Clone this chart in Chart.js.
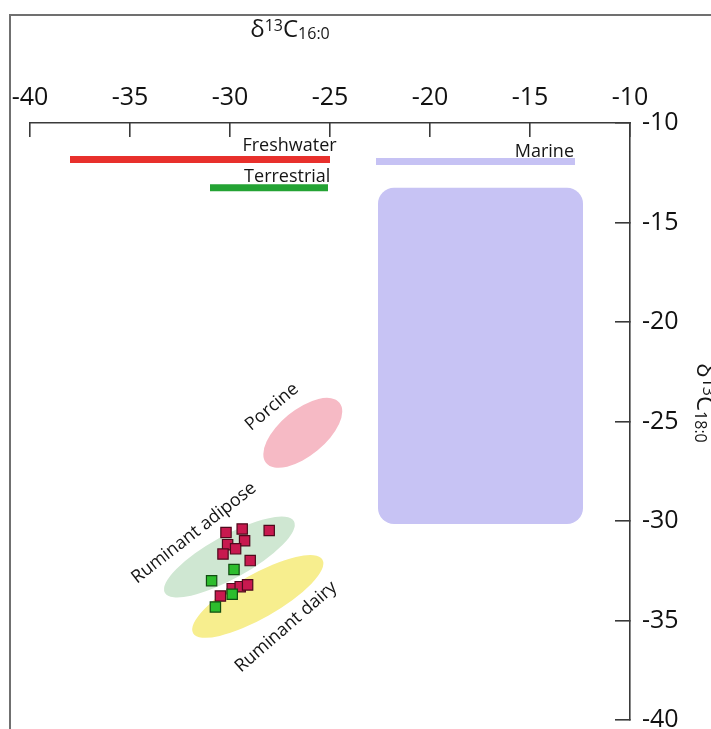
<!DOCTYPE html>
<html>
<head>
<meta charset="utf-8">
<script src="https://cdn.jsdelivr.net/npm/chart.js@4.4.1/dist/chart.umd.min.js"></script>
<style>
  html, body { margin: 0; padding: 0; background: #fff; }
  #wrap { position: relative; width: 711px; height: 729px; overflow: hidden; }
  #wrap canvas { position: absolute; left: 0; top: 0; }
  #frame { position: absolute; left: 9px; top: 14px; width: 800px; height: 800px;
           border-top: 2px solid #707070; border-left: 2px solid #707070; pointer-events: none; }
</style>
</head>
<body>
<div id="wrap">
  <canvas id="chart" width="711" height="729" style="width:711px;height:729px"></canvas>
  <div id="frame"></div>
</div>
<script>
// Axis ticks (‰)
const xTicks = [-40, -35, -30, -25, -20, -15, -10];
const yTicks = [-10, -15, -20, -25, -30, -35, -40];

// Sample residues, δ13C16:0 vs δ13C18:0 (‰)
const redX = [-30.20, -29.39, -28.04, -30.12, -29.27, -29.72, -30.35, -28.99, -29.89, -29.49, -29.12, -30.48];
const redY = [-30.58, -30.40, -30.48, -31.19, -30.99, -31.40, -31.66, -31.99, -33.40, -33.30, -33.21, -33.77];
const greenX = [-29.80, -30.92, -29.89, -30.73];
const greenY = [-32.44, -33.00, -33.68, -34.32];

// δ13C16:0 ranges of reference fats
const rangeNames = ['Freshwater', 'Terrestrial', 'Marine'];
const rangeLow   = [-38.0, -31.0, -22.7];
const rangeHigh  = [-25.0, -25.1, -12.75];
const rangeLevel = [-11.84, -13.26, -11.94];

// Marine reference field
const marineBoxX = [-22.6, -12.35];
const marineBoxY = [-30.15, -13.26];

// Reference fat ellipses: centre, semi-axes (‰) and tilt (degrees)
const ellipseNames = ['Ruminant adipose', 'Ruminant dairy', 'Porcine'];
const ellipseCX = [-30.03, -28.61, -26.36];
const ellipseCY = [-31.81, -33.79, -25.57];
const ellipseA  = [3.70, 3.73, 2.38];
const ellipseB  = [1.08, 1.10, 1.15];
const ellipseTilt = [29, 29.6, 39.4];

const FONT = '"Open Sans", "Noto Sans", sans-serif';
const ellipseColors = ['#cfe7d2', '#f7ee8e', '#f6bac5'];
const rangeColors = ['#e8302c', '#24a334', '#c6c2f4'];

const toPoints = (xs, ys) => xs.map((v, i) => ({ x: v, y: ys[i] }));

// Reference fields, labels and axis titles drawn from the chart's scales
const referencePlugin = {
  id: 'referenceFields',
  beforeDatasetsDraw(chart, args, opts) {
    const { ctx, scales: { x, y } } = chart;
    const unit = (Math.abs(x.getPixelForValue(1) - x.getPixelForValue(0)) +
                  Math.abs(y.getPixelForValue(1) - y.getPixelForValue(0))) / 2;
    ctx.save();
    // marine field
    const bx0 = x.getPixelForValue(marineBoxX[0]), bx1 = x.getPixelForValue(marineBoxX[1]);
    const by0 = y.getPixelForValue(marineBoxY[1]), by1 = y.getPixelForValue(marineBoxY[0]);
    ctx.fillStyle = opts.marineFill;
    ctx.beginPath();
    ctx.roundRect(bx0, by0, bx1 - bx0, by1 - by0, opts.marineRadius);
    ctx.fill();
    // ellipses
    ellipseNames.forEach((name, i) => {
      ctx.save();
      ctx.translate(x.getPixelForValue(ellipseCX[i]), y.getPixelForValue(ellipseCY[i]));
      ctx.rotate(-ellipseTilt[i] * Math.PI / 180);
      ctx.beginPath();
      ctx.ellipse(0, 0, ellipseA[i] * unit, ellipseB[i] * unit, 0, 0, Math.PI * 2);
      ctx.fillStyle = ellipseColors[i];
      ctx.fill();
      ctx.restore();
    });
    ctx.restore();
  },
  afterDatasetsDraw(chart, args, opts) {
    const { ctx, scales: { x, y } } = chart;
    ctx.save();
    ctx.fillStyle = opts.textColor;
    ctx.font = opts.labelSize + 'px ' + FONT;
    // range labels, right-aligned
    ctx.textAlign = 'right';
    ctx.textBaseline = 'alphabetic';
    opts.rangeLabels.forEach(l => {
      ctx.fillText(l.text, x.getPixelForValue(l.x), y.getPixelForValue(l.y));
    });
    // tilted ellipse labels
    ctx.textAlign = 'center';
    ctx.textBaseline = 'middle';
    opts.tiltedLabels.forEach(l => {
      ctx.save();
      ctx.translate(x.getPixelForValue(l.x), y.getPixelForValue(l.y));
      ctx.rotate(-l.angle * Math.PI / 180);
      ctx.fillText(l.text, 0, 0);
      ctx.restore();
    });
    ctx.restore();
  },
  afterDraw(chart, args, opts) {
    const { ctx } = chart;
    const big = opts.titleSize, small = opts.titleSmall;
    const parts = (sub) => [
      { t: 'δ', s: big, dy: 0 },
      { t: '13', s: small, dy: -big * 0.25 },
      { t: 'C', s: big, dy: 0 },
      { t: sub, s: small, dy: big * 0.1 }
    ];
    const drawTitle = (pieces, cx, baseY, rot) => {
      ctx.save();
      ctx.fillStyle = opts.textColor;
      ctx.textBaseline = 'alphabetic';
      ctx.textAlign = 'left';
      let w = 0;
      pieces.forEach(p => { ctx.font = p.s + 'px ' + FONT; p.w = ctx.measureText(p.t).width; w += p.w; });
      ctx.translate(cx, baseY);
      ctx.rotate(rot);
      let px = -w / 2;
      pieces.forEach(p => { ctx.font = p.s + 'px ' + FONT; ctx.fillText(p.t, px, p.dy); px += p.w; });
      ctx.restore();
    };
    drawTitle(parts('16:0'), opts.topTitle.cx, opts.topTitle.baseline, 0);
    drawTitle(parts('18:0'), opts.sideTitle.baseline, opts.sideTitle.cy, Math.PI / 2);
  }
};

const AXIS_COLOR = '#3a3a3a';

new Chart(document.getElementById('chart'), {
  type: 'scatter',
  data: {
    datasets: [
      {
        label: 'Group B',
        data: toPoints(greenX, greenY),
        pointStyle: 'rect', pointRadius: 7.3, pointHoverRadius: 7.3,
        backgroundColor: '#2dbd2d', borderColor: '#114d11', borderWidth: 1.2
      },
      {
        label: 'Group A',
        data: toPoints(redX, redY),
        pointStyle: 'rect', pointRadius: 7.3, pointHoverRadius: 7.3,
        backgroundColor: '#c8194f', borderColor: '#4d0a1c', borderWidth: 1.2
      },
      ...rangeNames.map((name, i) => ({
        label: name,
        data: [{ x: rangeLow[i], y: rangeLevel[i] }, { x: rangeHigh[i], y: rangeLevel[i] }],
        showLine: true,
        borderColor: rangeColors[i],
        borderWidth: 7,
        borderCapStyle: 'butt',
        pointRadius: 0,
        pointHoverRadius: 0
      }))
    ]
  },
  options: {
    responsive: false,
    animation: false,
    events: [],
    layout: { padding: { left: 30, top: 0, right: 0, bottom: 9 } },
    scales: {
      x: {
        type: 'linear', position: 'top', min: -40, max: -10,
        afterBuildTicks: s => { s.ticks = xTicks.map(v => ({ value: v })); },
        afterFit: s => { s.height = 123; s.paddingLeft = 0; s.paddingRight = 0; },
        grid: { drawOnChartArea: false, drawTicks: true, tickLength: -14, color: AXIS_COLOR, lineWidth: 1.6 },
        border: { display: true, color: AXIS_COLOR, width: 1.6 },
        ticks: { font: { family: FONT, size: 25 }, color: '#111', padding: 24, maxRotation: 0, autoSkip: false }
      },
      y: {
        type: 'linear', position: 'right', min: -40, max: -10,
        afterBuildTicks: s => { s.ticks = yTicks.map(v => ({ value: v })); },
        afterFit: s => { s.width = 81; s.paddingTop = 0; s.paddingBottom = 0; },
        grid: { drawOnChartArea: false, drawTicks: true, tickLength: -15, color: AXIS_COLOR, lineWidth: 1.6 },
        border: { display: true, color: AXIS_COLOR, width: 1.6 },
        ticks: { font: { family: FONT, size: 25 }, color: '#111', padding: 27, autoSkip: false }
      }
    },
    plugins: {
      legend: { display: false },
      tooltip: { enabled: false },
      referenceFields: {
        marineFill: '#c7c3f4',
        marineRadius: 16,
        textColor: '#151515',
        labelSize: 18,
        titleSize: 24,
        titleSmall: 16,
        topTitle: { cx: 290, baseline: 37 },
        sideTitle: { baseline: 697, cy: 403 },
        rangeLabels: [
          { text: 'Freshwater', x: -24.67, y: -11.43 },
          { text: 'Terrestrial', x: -24.98, y: -12.94 },
          { text: 'Marine', x: -12.8, y: -11.70 }
        ],
        tiltedLabels: [
          { text: 'Porcine', x: -27.9, y: -24.27, angle: 40 },
          { text: 'Ruminant adipose', x: -31.8, y: -30.6, angle: 38 },
          { text: 'Ruminant dairy', x: -27.2, y: -35.33, angle: 41 }
        ]
      }
    }
  },
  plugins: [referencePlugin]
});
</script>
</body>
</html>
